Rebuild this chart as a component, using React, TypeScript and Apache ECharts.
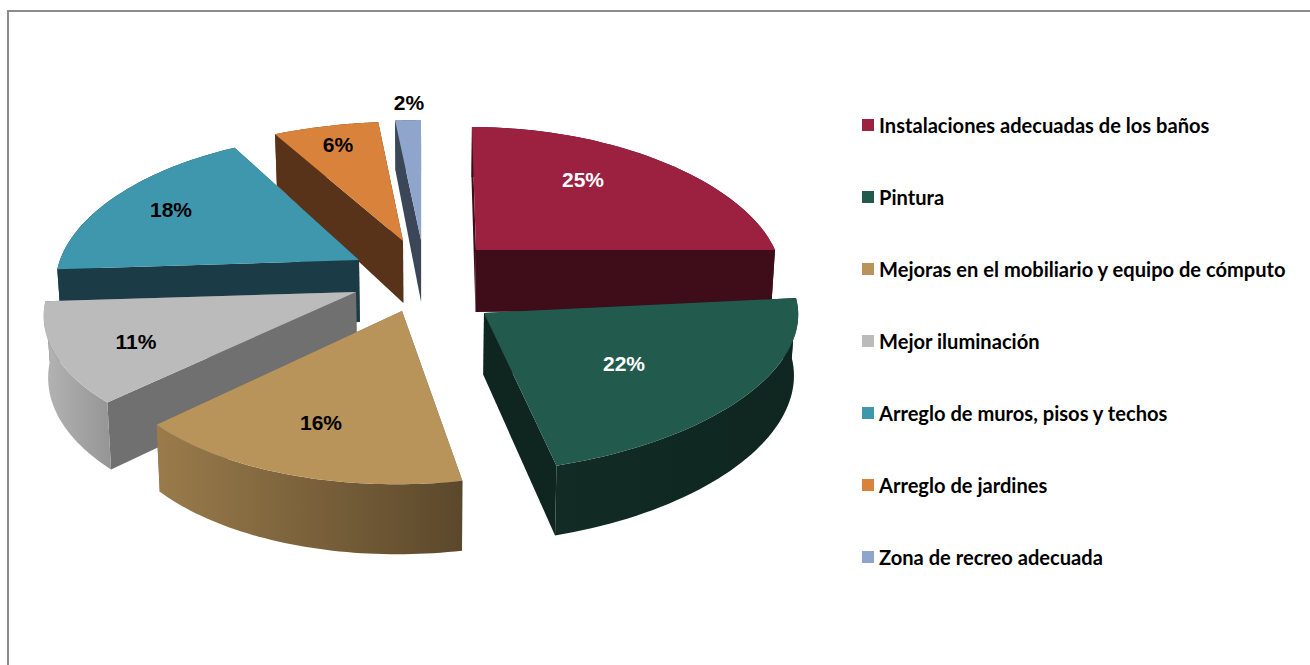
import React, { useEffect, useRef } from "react";
import * as echarts from "echarts";

const categories = [
  "Instalaciones adecuadas de los baños",
  "Pintura",
  "Mejoras en el mobiliario y equipo de cómputo",
  "Mejor iluminación",
  "Arreglo de muros, pisos y techos",
  "Arreglo de jardines",
  "Zona de recreo adecuada",
];
const percentValues = [25, 22, 16, 11, 18, 6, 2];

const topColors = ["#9C2141", "#225B4E", "#B8935A", "#BBBBBB", "#3F97AE", "#D9823C", "#8FA5CC"];
const edgeColors = ["#3F0D1A", "#0F2620", "#6E6E6E", "#707070", "#1B3B46", "#593319", "#3B4659"];
const rimStops = [
  ["#3F0D1A", "#3F0D1A"],
  ["#122B25", "#0F2620"],
  ["#9A7B4B", "#5B482B"],
  ["#B4B4B4", "#959595"],
  ["#1B3B46", "#1B3B46"],
  ["#593319", "#593319"],
  ["#3B4659", "#3B4659"],
];
const labelColors = ["#FFFFFF", "#FFFFFF", "#000000", "#000000", "#000000", "#000000", "#000000"];

// Exploded-pie layout for each slice: where its tip sits, its radii and small projection corrections.
const sliceLayout = [
  { ax: 476, ay: 250, rx: 299, ry: 1.0, px: 0.2, shear: 0, lean: 0.033, trim0: 0, trim1: 0, lx: 583, ly: 179, z: 4 },
  { ax: 484, ay: 313, rx: 312, ry: 0.97, px: 0.12, shear: -0.048, lean: 0, trim0: 0, trim1: -1.2, lx: 624, ly: 363, z: 7 },
  { ax: 402, ay: 311, rx: 292, ry: 1.05, px: 0.2, shear: 0, lean: -0.03, trim0: 0, trim1: 0, lx: 321, ly: 422, z: 8 },
  { ax: 356, ay: 292, rx: 308, ry: 1.02, px: 0.2, shear: 0, lean: 0.06, trim0: 0, trim1: 0, lx: 136, ly: 341, z: 6 },
  { ax: 359, ay: 260, rx: 299, ry: 1.02, px: 0.2, shear: 0, lean: 0.05, trim0: 0, trim1: 0, lx: 171, ly: 209, z: 5 },
  { ax: 403, ay: 241, rx: 322, ry: 0.97, px: 0.2, shear: 0, lean: 0, trim0: 0, trim1: 1.7, lx: 338, ly: 144, z: 3 },
  { ax: 421, ay: 240, rx: 320, ry: 0.975, px: 0.2, shear: 0, lean: 0, trim0: 1.4, trim1: 0, lx: 409, ly: 102, z: 2 },
];
const baseRy = 144;
const perspY = 0.146;
const vanishX = 430;

const total = percentValues.reduce((a, b) => a + b, 0);
const cumulative = percentValues.map((_, i) =>
  percentValues.slice(0, i).reduce((a, b) => a + b, 0)
);

function topPoint(i: number, t: number): number[] {
  const g = sliceLayout[i];
  const c = Math.cos(t);
  const s = Math.sin(t);
  const dx0 = g.rx * s * (1 - g.px * c);
  const dy0 = -baseRy * g.ry * c * (1 - perspY * c);
  return [g.ax + dx0 + g.lean * dy0, g.ay + dy0 + g.shear * dx0];
}

function dropPoint(p: number[], c: number): number[] {
  const depth = 60 - 10 * c;
  return [p[0] + (vanishX - p[0]) * 0.0115, p[1] + depth];
}

function renderSlice(i: number) {
  const g = sliceLayout[i];
  const a0 = (cumulative[i] / total) * Math.PI * 2 + (g.trim0 * Math.PI) / 180;
  const a1 = ((cumulative[i] + percentValues[i]) / total) * Math.PI * 2 + (g.trim1 * Math.PI) / 180;
  const steps = 48;
  const angles: number[] = [];
  for (let k = 0; k <= steps; k++) angles.push(a0 + ((a1 - a0) * k) / steps);
  const arc = angles.map((t) => topPoint(i, t));
  const arcLow = arc.map((p, k) => dropPoint(p, Math.cos(angles[k])));
  const apex = [g.ax, g.ay];
  const apexLow = [g.ax + (vanishX - g.ax) * 0.0115, g.ay + 62];
  const edge = edgeColors[i];
  const poly = (points: number[][], fill: any) => ({
    type: "polygon",
    shape: { points },
    style: { fill, stroke: null },
    silent: true,
  });
  const rimFill = {
    type: "linear",
    x: 0,
    y: 0,
    x2: 1,
    y2: 0,
    colorStops: [
      { offset: 0, color: rimStops[i][0] },
      { offset: 1, color: rimStops[i][1] },
    ],
  };
  return {
    type: "group",
    children: [
      poly([apex, arc[0], arcLow[0], apexLow], edge),
      poly([apex, arc[steps], arcLow[steps], apexLow], edge),
      poly([...arc, ...arcLow.slice().reverse()], rimFill),
      poly([apex, ...arc], topColors[i]),
      {
        type: "text",
        x: g.lx,
        y: g.ly,
        silent: true,
        style: {
          text: percentValues[i] + "%",
          fill: labelColors[i],
          font: 'bold 21px "Liberation Sans", Arial, sans-serif',
          align: "center",
          verticalAlign: "middle",
        },
      },
    ],
  };
}

export default function App() {
  const ref = useRef<HTMLDivElement>(null);
  useEffect(() => {
    const chart = echarts.init(ref.current!, undefined, { renderer: "svg" });
    chart.setOption({
      animation: false,
      backgroundColor: "#FFFFFF",
      legend: {
        orient: "vertical",
        left: 862,
        top: 113,
        padding: 0,
        itemWidth: 12,
        itemHeight: 12,
        itemGap: 48,
        icon: "rect",
        data: categories,
        textStyle: {
          fontFamily: "Lato, sans-serif",
          fontWeight: "bold",
          fontSize: 20.1,
          color: "#000000",
          lineHeight: 24,
        },
      },
      graphic: [
        { type: "rect", shape: { x: 7, y: 10, width: 1303, height: 2 }, style: { fill: "#8C8C8C" }, silent: true },
        { type: "rect", shape: { x: 7, y: 10, width: 2, height: 655 }, style: { fill: "#8C8C8C" }, silent: true },
      ],
      series: categories.map((name, i) => ({
        type: "custom",
        name,
        coordinateSystem: "none",
        z: sliceLayout[i].z,
        silent: true,
        itemStyle: { color: topColors[i] },
        data: [percentValues[i]],
        renderItem: () => renderSlice(i),
      })),
    });
    return () => chart.dispose();
  }, []);
  return <div ref={ref} style={{ position: "fixed", left: 0, top: 0, width: 1310, height: 665 }} />;
}
